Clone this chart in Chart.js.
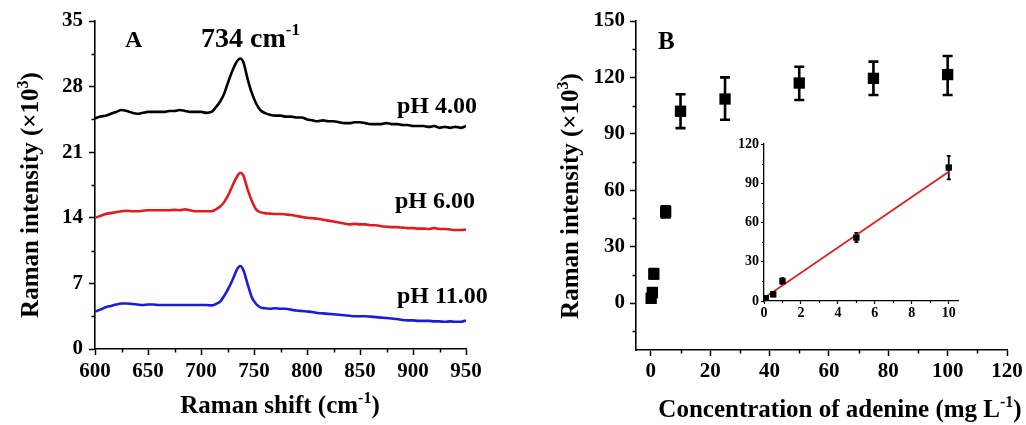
<!DOCTYPE html>
<html><head><meta charset="utf-8">
<script src="https://cdn.jsdelivr.net/npm/chart.js@4.4.1/dist/chart.umd.min.js"></script>
<style>
html,body{margin:0;padding:0;background:#fff;}
#wrap{position:relative;width:1026px;height:425px;overflow:hidden;background:#fff;}
canvas{position:absolute;}
</style></head><body>
<div id="wrap">
<canvas id="cA" width="520" height="425" style="left:0;top:0"></canvas>
<canvas id="cB" width="506" height="425" style="left:520px;top:0"></canvas>
<canvas id="cI" width="250" height="190" style="left:720px;top:130px"></canvas>
</div>
<script>
// ---------- Panel A data ----------
const wavenumber = [600,605,610,615,620,625,630,635,640,645,650,655,660,665,670,675,680,685,690,695,700,705,710,
  714,718,722,726,730,734,737,740,744,748,752,756,760,765,
  770,775,780,785,790,795,800,805,810,815,820,825,830,835,840,845,850,855,860,865,870,875,880,885,890,895,900,905,910,915,920,925,930,935,940,945,950];
const spectrumPH4 = [24.6,24.8,24.9,25.1,25.3,25.5,25.4,25.2,25.1,25.2,25.3,25.3,25.3,25.3,25.4,25.4,25.5,25.4,25.3,25.3,25.3,25.2,25.3,
  25.8,26.4,27.3,28.6,29.8,30.7,31.0,30.6,28.8,27.3,26.2,25.5,25.2,25.0,
  24.9,24.9,24.8,24.8,24.7,24.7,24.5,24.4,24.3,24.4,24.3,24.3,24.2,24.1,24.1,24.2,24.2,24.1,24.0,24.0,24.0,24.1,24.0,24.0,23.9,23.9,23.8,23.8,23.8,23.7,23.8,23.6,23.7,23.6,23.7,23.6,23.8];
const spectrumPH6 = [14.0,14.2,14.4,14.5,14.6,14.7,14.75,14.7,14.7,14.75,14.8,14.8,14.8,14.8,14.8,14.85,14.8,14.9,14.8,14.7,14.7,14.7,14.7,
  14.9,15.2,15.7,16.5,17.5,18.4,18.8,18.5,17.0,15.8,14.9,14.6,14.5,14.45,
  14.4,14.4,14.35,14.3,14.2,14.1,14.0,13.95,13.9,13.8,13.7,13.6,13.5,13.4,13.3,13.35,13.3,13.3,13.2,13.2,13.1,13.05,13.0,13.0,12.95,12.9,12.9,12.85,12.85,12.8,12.9,12.8,12.8,12.75,12.7,12.7,12.75];
const spectrumPH11 = [4.0,4.2,4.45,4.6,4.75,4.85,4.85,4.8,4.75,4.7,4.75,4.75,4.7,4.7,4.7,4.7,4.7,4.7,4.7,4.7,4.7,4.7,4.65,
  4.8,5.05,5.7,6.5,7.45,8.5,8.85,8.4,6.9,5.5,4.8,4.45,4.35,4.3,
  4.35,4.3,4.3,4.2,4.1,4.05,4.0,3.95,3.85,3.8,3.75,3.7,3.65,3.6,3.55,3.5,3.5,3.5,3.45,3.4,3.35,3.3,3.25,3.2,3.1,3.05,3.05,3.0,3.0,3.0,2.95,2.95,2.9,2.95,2.9,2.9,3.05];
const xTicksA = [600,650,700,750,800,850,900,950];
const xMinorA = [625,675,725,775,825,875,925];
const yTicksA = [0,7,14,21,28,35];
const yMinorA = [3.5,10.5,17.5,24.5,31.5];

// ---------- Panel B data ----------
const concentration = [0.1,0.5,1,5,10,25,50,75,100];
const intensity     = [2.5,5.5,15.4,48.5,102,108.5,117,119.5,121.5];
const errLow        = [0.5,3.5,13,45.5,93,97.5,108,110.6,110.6];
const errHigh       = [4.5,8,18,51.5,111,120,125.7,128.4,131.4];
const xTicksB = [0,20,40,60,80,100,120];
const xMinorB = [10,30,50,70,90,110];
const yTicksB = [0,30,60,90,120,150];
const yMinorB = [-15,15,45,75,105,135];

// ---------- Inset data ----------
const insetX    = [0.1,0.5,1,5,10];
const insetY    = [2.1,5.1,15.2,48.5,102];
const insetLow  = [1,3.5,13,45,93];
const insetHigh = [3.5,7,17.5,52,111];
const fitX = [0,10];
const fitY = [2.3,98.8];
const xTicksI = [0,2,4,6,8,10];
const xMinorI = [1,3,5,7,9];
const yTicksI = [0,30,60,90,120];
const yMinorI = [15,45,75,105];

const FONT = '"Liberation Serif","Times New Roman",serif';
const pairs = (xs, ys) => xs.map((x,i)=>({x, y: ys[i]}));

function rich(ctx, parts, x, y, size, align){
  const sup = Math.round(size*0.62);
  const widths = parts.map(([t,s])=>{ ctx.font = `bold ${s?sup:size}px ${FONT}`; return ctx.measureText(t).width; });
  const w = widths.reduce((a,b)=>a+b,0);
  let cx = align==='center' ? x-w/2 : (align==='right' ? x-w : x);
  ctx.textAlign='left'; ctx.textBaseline='alphabetic'; ctx.fillStyle='#000';
  parts.forEach(([t,s],i)=>{ ctx.font = `bold ${s?sup:size}px ${FONT}`; ctx.fillText(t, cx, s ? y-size*0.42 : y); cx += widths[i]; });
}

function makePlugin(o){
  return {
    id:'deco',
    beforeDatasetsDraw(chart){
      if(!o.err) return;
      const {ctx} = chart; const xs = chart.scales.x, ys = chart.scales.y;
      ctx.save(); ctx.strokeStyle='#000'; ctx.lineWidth=o.err.w;
      o.err.x.forEach((xv,i)=>{
        const px = xs.getPixelForValue(xv), p1 = ys.getPixelForValue(o.err.lo[i]), p2 = ys.getPixelForValue(o.err.hi[i]);
        ctx.beginPath(); ctx.moveTo(px,p1); ctx.lineTo(px,p2);
        ctx.moveTo(px-o.err.cap,p1); ctx.lineTo(px+o.err.cap,p1);
        ctx.moveTo(px-o.err.cap,p2); ctx.lineTo(px+o.err.cap,p2);
        ctx.stroke();
      });
      ctx.restore();
    },
    afterDraw(chart){
      const {ctx, chartArea:a} = chart; const xs = chart.scales.x, ys = chart.scales.y;
      ctx.save(); ctx.strokeStyle='#000'; ctx.lineWidth=o.tw;
      ctx.beginPath();
      o.minorX.forEach(v=>{ const p=Math.round(xs.getPixelForValue(v))+0.5; ctx.moveTo(p,a.bottom); ctx.lineTo(p,a.bottom+o.mlen); });
      o.minorY.forEach(v=>{ const p=Math.round(ys.getPixelForValue(v))+0.5; ctx.moveTo(a.left,p); ctx.lineTo(a.left-o.mlen,p); });
      ctx.stroke();
      if(o.texts) o.texts(ctx);
      ctx.restore();
    }
  };
}

function axes(o){
  const fitY = s=>{ s.width=o.yw; s.paddingTop=0; s.paddingBottom=0; };
  const fitX = s=>{ s.height=o.xh; s.paddingLeft=0; s.paddingRight=0; };
  return {
    x:{type:'linear', min:o.xmin, max:o.xmax,
       afterBuildTicks:s=>{ s.ticks=o.xt.map(v=>({value:v})); }, afterFit:fitX,
       grid:{drawOnChartArea:false, drawTicks:true, tickLength:o.tl, tickWidth:o.tw, tickColor:'#000'},
       border:{display:true, color:'#000', width:o.bw},
       ticks:{autoSkip:false, maxRotation:0, padding:o.xpad, color:'#000', font:{family:FONT, weight:'bold', size:o.fs}}},
    y:{type:'linear', min:o.ymin, max:o.ymax,
       afterBuildTicks:s=>{ s.ticks=o.yt.map(v=>({value:v})); }, afterFit:fitY,
       grid:{drawOnChartArea:false, drawTicks:true, tickLength:o.tl, tickWidth:o.tw, tickColor:'#000'},
       border:{display:true, color:'#000', width:o.bw},
       ticks:{autoSkip:false, padding:o.ypad, color:'#000', font:{family:FONT, weight:'bold', size:o.fs}}}
  };
}

const common = {responsive:false, animation:false, events:[], devicePixelRatio:1,
  plugins:{legend:{display:false}, tooltip:{enabled:false}}};

// ---------- Chart A ----------
new Chart(document.getElementById('cA'), {
  type:'line',
  data:{datasets:[
    {data:pairs(wavenumber,spectrumPH4), borderColor:'#000', borderWidth:2.6, pointRadius:0, cubicInterpolationMode:'monotone'},
    {data:pairs(wavenumber,spectrumPH6), borderColor:'#e8191e', borderWidth:2.6, pointRadius:0, cubicInterpolationMode:'monotone'},
    {data:pairs(wavenumber,spectrumPH11), borderColor:'#1a1ae0', borderWidth:2.6, pointRadius:0, cubicInterpolationMode:'monotone'}
  ]},
  options:{...common, layout:{padding:{left:0,right:54,top:21,bottom:0}},
    scales:axes({xmin:600,xmax:950,ymin:0,ymax:35,xt:xTicksA,yt:yTicksA,yw:95,xh:76,tl:6,tw:1.5,bw:1.6,fs:21,xpad:4,ypad:6})},
  plugins:[makePlugin({minorX:xMinorA, minorY:yMinorA, mlen:3.5, tw:1.5, texts:ctx=>{
    rich(ctx,[['A',0]],125,47,24,'left');
    rich(ctx,[['734 cm',0],['-1',1]],201,47,28,'left');
    rich(ctx,[['pH 4.00',0]],397,113,24,'left');
    rich(ctx,[['pH 6.00',0]],395,208,24,'left');
    rich(ctx,[['pH 11.00',0]],397,303,24,'left');
    rich(ctx,[['Raman shift (cm',0],['-1',1],[')',0]],280,413,25,'center');
    ctx.save(); ctx.translate(38,195); ctx.rotate(-Math.PI/2);
    rich(ctx,[['Raman intensity (\u00d710',0],['3',1],[')',0]],0,0,25,'center');
    ctx.restore();
  }})]
});

// ---------- Chart B ----------
new Chart(document.getElementById('cB'), {
  type:'scatter',
  data:{datasets:[
    {data:pairs(concentration,intensity), pointStyle:'rect', pointRadius:8, backgroundColor:'#000', borderWidth:0}
  ]},
  options:{...common, layout:{padding:{left:0,right:19,top:21,bottom:0}},
    scales:axes({xmin:-5,xmax:120,ymin:-25,ymax:150,xt:xTicksB,yt:yTicksB,yw:116,xh:75,tl:6,tw:1.5,bw:1.6,fs:21,xpad:3,ypad:5})},
  plugins:[makePlugin({minorX:xMinorB, minorY:yMinorB, mlen:3.5, tw:1.5,
    err:{x:concentration, lo:errLow, hi:errHigh, w:2.6, cap:5},
    texts:ctx=>{
      rich(ctx,[['B',0]],138,49,25,'left');
      rich(ctx,[['Concentration of adenine (mg L',0],['-1',1],[')',0]],320,417,25,'center');
      ctx.save(); ctx.translate(58,196); ctx.rotate(-Math.PI/2);
      rich(ctx,[['Raman intensity (\u00d710',0],['3',1],[')',0]],0,0,25,'center');
      ctx.restore();
    }})]
});

// ---------- Inset ----------
new Chart(document.getElementById('cI'), {
  type:'scatter',
  data:{datasets:[
    {data:pairs(insetX,insetY), pointStyle:'rect', pointRadius:4.5, backgroundColor:'#000', borderWidth:0},
    {type:'line', data:pairs(fitX,fitY), borderColor:'#e01e1e', borderWidth:1.8, pointRadius:0}
  ]},
  options:{...common, layout:{padding:{left:0,right:12,top:14,bottom:0}},
    scales:axes({xmin:0,xmax:10.5,ymin:0,ymax:120,xt:xTicksI,yt:yTicksI,yw:44,xh:19,tl:3,tw:1.2,bw:1.3,fs:14,xpad:1,ypad:2})},
  plugins:[makePlugin({minorX:xMinorI, minorY:yMinorI, mlen:2, tw:1.2,
    err:{x:insetX, lo:insetLow, hi:insetHigh, w:1.8, cap:2}})]
});
</script>
</body></html>
